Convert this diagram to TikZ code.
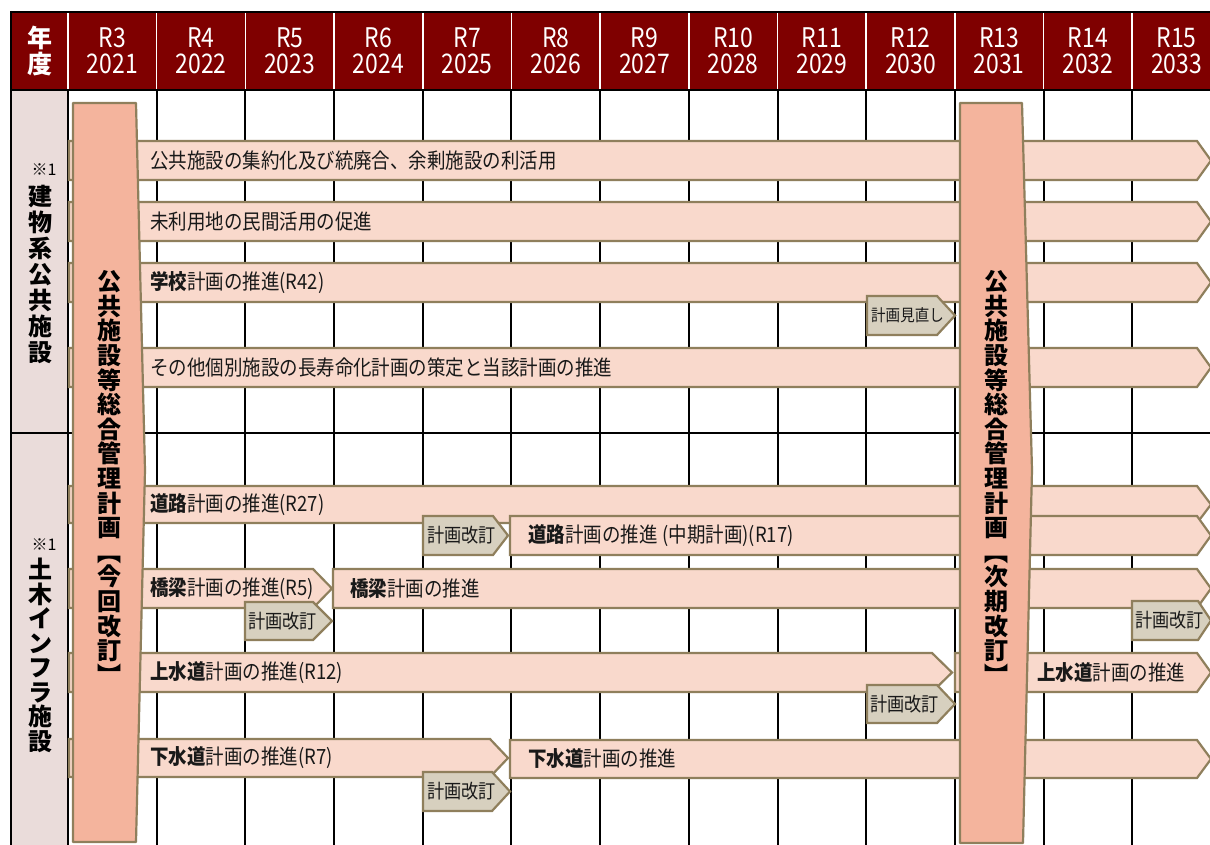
\documentclass[tikz,border=0pt]{standalone}
\usepackage{fontspec}
\setmainfont{Noto Sans CJK JP}
\newfontfamily\jpfont[FakeStretch=0.88]{Noto Sans CJK JP}
\newfontfamily\hdrfont[FakeStretch=0.85]{Noto Sans CJK JP}
\newfontfamily\vfont{Noto Sans CJK JP}
\definecolor{hdr}{HTML}{7F0000}
\definecolor{leftfill}{HTML}{EADCDA}
\definecolor{bigfill}{HTML}{F4B49D}
\definecolor{barfill}{HTML}{F9D9CC}
\definecolor{grayfill}{HTML}{D7D0BF}
\definecolor{barline}{HTML}{8F7F5C}
\newcommand{\abar}[5]{% x0, y0, xr, xt, y1
  \draw[barshape] (#1,#2) -- (#3,#2) -- (#4,{(#2+#5)/2}) -- (#3,#5) -- (#1,#5) -- cycle;}
\newcommand{\gbox}[5]{%
  \draw[grayshape] (#1,#2) -- (#3,#2) -- (#4,{(#2+#5)/2}) -- (#3,#5) -- (#1,#5) -- cycle;}
\begin{document}
\begin{tikzpicture}[x=1pt,y=-1pt,
  gridline/.style={draw=black,line width=2pt},
  barshape/.style={fill=barfill,draw=barline,line width=2.2pt,line join=miter},
  grayshape/.style={fill=grayfill,draw=barline,line width=2.2pt,line join=miter},
  bigshape/.style={fill=bigfill,draw=barline,line width=2.2pt,line join=round},
  bartext/.style={anchor=west,inner sep=0pt,text=black!90,font=\jpfont\fontsize{21}{21}\selectfont},
  graytext/.style={anchor=west,inner sep=0pt,text=black!90,font=\jpfont\fontsize{19.5}{19.5}\selectfont},
  hdrtext/.style={align=center,inner sep=0pt,text=white,font=\hdrfont\fontsize{27}{25.5}\selectfont},
  vtext/.style={align=center,inner sep=0pt,text=black,font=\vfont\bfseries\fontsize{24}{24.6}\selectfont},
  ltext/.style={align=center,inner sep=0pt,text=black,font=\vfont\bfseries\fontsize{24}{26}\selectfont},
  notetext/.style={inner sep=0pt,text=black,font=\vfont\fontsize{16}{16}\selectfont}]
\useasboundingbox (0,0) rectangle (1210,845);
\clip (0,0) rectangle (1210,845);
\fill[white] (0,0) rectangle (1210,845);
% header band
\fill[hdr] (11,12) rectangle (1215,90);
\foreach \k in {0,...,12}
  \draw[white,line width=1.6pt] ({68+88.69*\k},13) -- ({68+88.69*\k},89);
% left column
\fill[leftfill] (11,90) rectangle (68,845);
% grid
\foreach \k in {1,...,12}
  \draw[gridline] ({68+88.69*\k},90) -- ({68+88.69*\k},845);
\draw[gridline] (68,90) -- (68,845);
\draw[gridline] (11,11) -- (11,845);
\draw[gridline] (10,12) -- (1215,12);
\draw[gridline] (10,90) -- (1215,90);
\draw[gridline] (11,433) -- (1215,433);
% header texts
\node[text=white,align=center,inner sep=0pt,font=\vfont\bfseries\fontsize{25}{26}\selectfont] (nendo) at (40,51) {年\\度};
\foreach \r [count=\i from 0] in {3,...,15}{
  \pgfmathtruncatemacro\yr{2018+\r}
  \node[hdrtext] (h\r) at ({68+88.69*(\i+0.5)},51) {R\r\\\yr};
}
% bars
\abar{69}{141}{1197}{1211}{180}
\abar{69}{202}{1197}{1211}{241}
\abar{69}{263}{1197}{1211}{302}
\abar{69}{348}{1197}{1211}{387}
\abar{69}{486}{1197}{1211}{523}
\abar{510}{516}{1197}{1211}{555}
\abar{69}{569}{313}{332}{608}
\abar{333}{569}{1197}{1211}{608}
\abar{69}{653}{932}{952}{692}
\abar{955}{653}{1197}{1211}{692}
\abar{69}{739}{490}{508}{777}
\abar{510}{740}{1197}{1211}{778}
% gray boxes
\gbox{867}{296}{937}{955}{335}
\gbox{423}{516}{493}{508}{555}
\gbox{245}{602}{313}{332}{640}
\gbox{1132}{601}{1198}{1211}{640}
\gbox{867}{685}{937}{955}{723}
\gbox{423}{772}{492}{510}{811}
% big vertical bars
\draw[bigshape] (73,103) -- (136,103) -- (145,470) -- (136,842) -- (73,842) -- cycle;
\draw[bigshape] (960,103) -- (1022,103) -- (1032,470) -- (1023,843) -- (960,843) -- cycle;
% bar texts
\node[bartext] (t1) at (150,160.5) {公共施設の集約化及び統廃合、余剰施設の利活用};
\node[bartext] (t2) at (150,221.5) {未利用地の民間活用の促進};
\node[bartext] (t3) at (150,282.5) {\textbf{学校}計画の推進(R42)};
\node[bartext] (t5) at (150,367.5) {その他個別施設の長寿命化計画の策定と当該計画の推進};
\node[bartext] (road1) at (150,504.5) {\textbf{道路}計画の推進(R27)};
\node[bartext] (road2) at (528,535.5) {\textbf{道路}計画の推進\hspace{5pt}(中期計画)(R17)};
\node[bartext] (br1) at (150,588.5) {\textbf{橋梁}計画の推進(R5)};
\node[bartext] (br2) at (350,588.5) {\textbf{橋梁}計画の推進};
\node[bartext] (wa1) at (150,672.5) {\textbf{上水道}計画の推進(R12)};
\node[bartext] (wa2) at (1037,672.5) {\textbf{上水道}計画の推進};
\node[bartext] (se1) at (150,758) {\textbf{下水道}計画の推進(R7)};
\node[bartext] (se2) at (528,759) {\textbf{下水道}計画の推進};
% gray texts
\node[graytext,font=\jpfont\fontsize{16.5}{16.5}\selectfont] (g1) at (871,315.5) {計画見直し};
\node[graytext] (g2) at (427,535.5) {計画改訂};
\node[graytext] (g3) at (248,621) {計画改訂};
\node[graytext] (g4) at (1135,620.5) {計画改訂};
\node[graytext] (g5) at (870,704) {計画改訂};
\node[graytext] (g6) at (427,791.5) {計画改訂};
% left column labels
\node[notetext] (n1) at (44,170) {※1};
\node[ltext] (lab1) at (40,274) {建\\物\\系\\公\\共\\施\\設};
\node[notetext] (n2) at (44,545) {※1};
\node[ltext,font=\vfont\bfseries\fontsize{24}{24.5}\selectfont] (lab2) at (40,655.5) {土\\木\\イ\\ン\\フ\\ラ\\施\\設};
% big bar labels
\node[vtext] (big1) at (109,477.5) {公\\共\\施\\設\\等\\総\\合\\管\\理\\計\\画\\︻\\今\\回\\改\\訂\\︼};
\node[vtext] (big2) at (996,477.5) {公\\共\\施\\設\\等\\総\\合\\管\\理\\計\\画\\︻\\次\\期\\改\\訂\\︼};
\end{tikzpicture}
\end{document}
